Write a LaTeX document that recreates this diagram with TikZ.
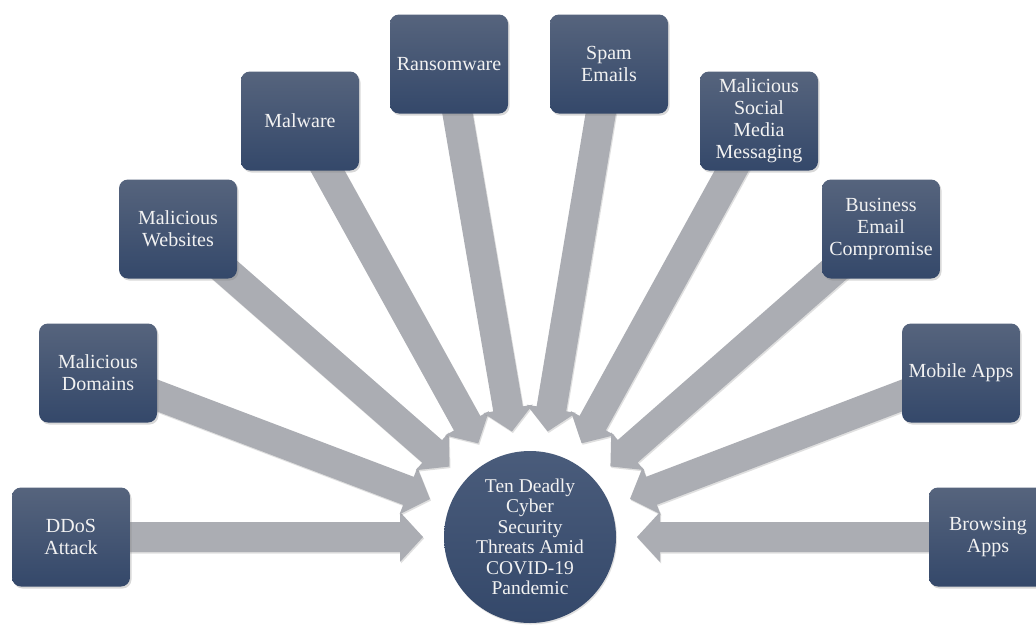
\documentclass[tikz,border=0pt]{standalone}
\usepackage{fontspec}
\setmainfont{Liberation Serif}
\newfontfamily\tnrfont{Liberation Serif}
\usetikzlibrary{calc,shadows}
\pgfdeclarelayer{bg}
\pgfdeclarelayer{arrows}
\pgfsetlayers{bg,arrows,main}
\definecolor{boxtop}{HTML}{56647D}
\definecolor{boxbot}{HTML}{34486A}
\definecolor{arrowgray}{HTML}{ABADB3}
\definecolor{hubtop}{HTML}{4A5C7B}
\definecolor{hubbot}{HTML}{34486A}
\tikzset{
  threat/.style={rounded corners=9pt, minimum width=118pt, minimum height=99pt,
    inner sep=2pt, top color=boxtop, bottom color=boxbot, text=white!95!black,
    align=center, font=\tnrfont\fontsize{20}{22}\selectfont,
    drop shadow={opacity=0.3, shadow xshift=1.5pt, shadow yshift=-2pt}},
  hub/.style={circle, minimum size=172pt, inner sep=0pt, top color=hubtop,
    bottom color=hubbot, text=white!95!black, align=center,
    font=\tnrfont\fontsize{19.5}{20.5}\selectfont,
    drop shadow={opacity=0.25, shadow xshift=1pt, shadow yshift=-1.5pt}},
  blockarrow/.style={fill=arrowgray,
    drop shadow={opacity=0.25, shadow xshift=1pt, shadow yshift=-1.5pt}}
}
\newcommand\threatarrow[1]{%
  \coordinate (tip#1) at ($(hub.center)!107pt!(#1.center)$);
  \coordinate (hb#1) at ($(hub.center)!130pt!(#1.center)$);
  \fill[blockarrow] (tip#1)
    -- ($(hb#1)!25pt!90:(#1.center)$)
    -- ($(hb#1)!15pt!90:(#1.center)$)
    -- ($(#1.center)!15pt!-90:(hub.center)$)
    -- ($(#1.center)!15pt!90:(hub.center)$)
    -- ($(hb#1)!15pt!-90:(#1.center)$)
    -- ($(hb#1)!25pt!-90:(#1.center)$)
    -- cycle;
}
\begin{document}
\begin{tikzpicture}[x=1pt,y=-1pt]
\begin{pgfonlayer}{bg}
  \fill[white] (0,0) rectangle (1036,624);
\end{pgfonlayer}
\useasboundingbox (0,0) rectangle (1036,624);

\node[hub] (hub) at (530,537) {Ten Deadly\\Cyber\\Security\\Threats Amid\\COVID-19\\Pandemic};

\node[threat] (ddos)     at (71,537)  {DDoS\\Attack};
\node[threat] (domains)  at (98,373)  {Malicious\\Domains};
\node[threat] (websites) at (178,229) {Malicious\\Websites};
\node[threat] (malware)  at (300,121) {Malware};
\node[threat] (ransom)   at (449,64)  {Ransomware};
\node[threat] (spam)     at (609,64)  {Spam\\Emails};
\node[threat] (social)   at (759,121) {Malicious\\Social\\Media\\Messaging};
\node[threat] (bec)      at (881,229) {Business\\Email\\Compromise};
\node[threat] (mobile)   at (961,373) {Mobile Apps};
\node[threat] (browsing) at (988,537) {Browsing\\Apps};

\begin{pgfonlayer}{arrows}
  \threatarrow{ddos}
  \threatarrow{domains}
  \threatarrow{websites}
  \threatarrow{malware}
  \threatarrow{ransom}
  \threatarrow{spam}
  \threatarrow{social}
  \threatarrow{bec}
  \threatarrow{mobile}
  \threatarrow{browsing}
\end{pgfonlayer}
\end{tikzpicture}
\end{document}
